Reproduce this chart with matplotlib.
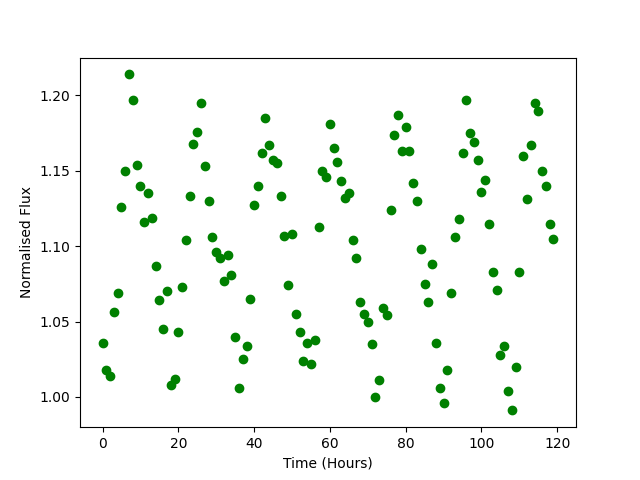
import matplotlib
matplotlib.use('Agg')
import matplotlib.pyplot as plt
import numpy as np

# time in hours, one reading per hour
time = np.arange(120)

flux = [1.036, 1.018, 1.014, 1.056, 1.069, 1.126, 1.150, 1.214, 1.197, 1.154,
        1.140, 1.116, 1.135, 1.119, 1.087, 1.064, 1.045, 1.070, 1.008, 1.012,
        1.043, 1.073, 1.104, 1.133, 1.168, 1.176, 1.195, 1.153, 1.130, 1.106,
        1.096, 1.092, 1.077, 1.094, 1.081, 1.040, 1.006, 1.025, 1.034, 1.065,
        1.127, 1.140, 1.162, 1.185, 1.167, 1.157, 1.155, 1.133, 1.107, 1.074,
        1.108, 1.055, 1.043, 1.024, 1.036, 1.022, 1.038, 1.113, 1.150, 1.146,
        1.181, 1.165, 1.156, 1.143, 1.132, 1.135, 1.104, 1.092, 1.063, 1.055,
        1.050, 1.035, 1.000, 1.011, 1.059, 1.054, 1.124, 1.174, 1.187, 1.163,
        1.179, 1.163, 1.142, 1.130, 1.098, 1.075, 1.063, 1.088, 1.036, 1.006,
        0.996, 1.018, 1.069, 1.106, 1.118, 1.162, 1.197, 1.175, 1.169, 1.157,
        1.136, 1.144, 1.115, 1.083, 1.071, 1.028, 1.034, 1.004, 0.991, 1.020,
        1.083, 1.160, 1.131, 1.167, 1.195, 1.190, 1.150, 1.140, 1.115, 1.105]

fig, ax = plt.subplots(figsize=(6.4, 4.8), dpi=100)
ax.plot(time, flux, 'o', color='green')
ax.set_xlabel('Time (Hours)')
ax.set_ylabel('Normalised Flux')

plt.savefig('out.png')
